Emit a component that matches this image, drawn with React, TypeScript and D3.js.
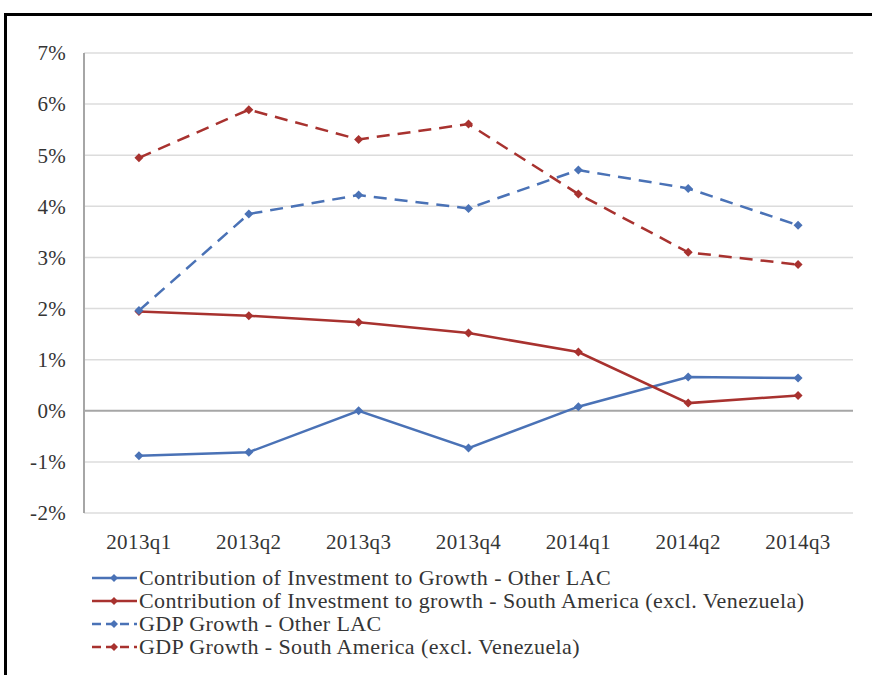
import React from "react";
import * as d3 from "d3";

const categories = ["2013q1", "2013q2", "2013q3", "2013q4", "2014q1", "2014q2", "2014q3"];
const invOtherLAC = [-0.88, -0.81, 0.0, -0.73, 0.08, 0.66, 0.64];
const invSouthAm = [1.94, 1.86, 1.73, 1.52, 1.15, 0.15, 0.3];
const gdpOtherLAC = [1.96, 3.85, 4.22, 3.96, 4.71, 4.35, 3.63];
const gdpSouthAm = [4.95, 5.89, 5.31, 5.61, 4.24, 3.1, 2.86];
const yTicks = [-2, -1, 0, 1, 2, 3, 4, 5, 6, 7];

const seriesNames = [
  "Contribution of Investment to Growth - Other LAC",
  "Contribution of Investment to growth - South America (excl. Venezuela)",
  "GDP Growth - Other LAC",
  "GDP Growth - South America (excl. Venezuela)",
];

const BLUE = "#4a72b6";
const RED = "#a8322f";

export default function App() {
  const W = 872, H = 675;
  const left = 84, right = 853, top = 53, bottom = 513;
  const x = d3.scaleBand().domain(categories).range([left, right]);
  const y = d3.scaleLinear().domain([-2, 7]).range([bottom, top]);
  const cx = (c: string) => (x(c) as number) + x.bandwidth() / 2;

  const series = [
    { name: seriesNames[0], values: invOtherLAC, color: BLUE, dash: null as string | null },
    { name: seriesNames[1], values: invSouthAm, color: RED, dash: null },
    { name: seriesNames[2], values: gdpOtherLAC, color: BLUE, dash: "13,8" },
    { name: seriesNames[3], values: gdpSouthAm, color: RED, dash: "13,8" },
  ];

  const line = d3
    .line<number>()
    .x((_, i) => cx(categories[i]))
    .y((d) => y(d));

  const diamond = (px: number, py: number, r = 4.5) =>
    `M${px},${py - r}L${px + r},${py}L${px},${py + r}L${px - r},${py}Z`;

  const font = "'Liberation Serif', 'Times New Roman', serif";
  const textColor = "#353535";

  return (
    <svg
      width={W}
      height={H}
      style={{ position: "absolute", left: 0, top: 0, background: "#fff" }}
    >
      <rect x={5.5} y={14.5} width={900} height={700} fill="#fff" stroke="#000" strokeWidth={3} />
      {yTicks.map((t) => (
        <line
          key={"g" + t}
          x1={left}
          x2={right}
          y1={y(t)}
          y2={y(t)}
          stroke={t === 0 ? "#a6a6a6" : "#dcdcdc"}
          strokeWidth={t === 0 ? 2 : 1.5}
        />
      ))}
      <line x1={left} x2={left} y1={top} y2={bottom} stroke="#a6a6a6" strokeWidth={2} />
      {yTicks.map((t) => (
        <text
          key={"yt" + t}
          x={66}
          y={y(t)}
          dy="0.35em"
          textAnchor="end"
          fontFamily={font}
          fontSize={21}
          letterSpacing={0.3}
          fill={textColor}
        >
          {`${t}%`}
        </text>
      ))}
      {categories.map((c) => (
        <text
          key={"xt" + c}
          x={cx(c)}
          y={549}
          textAnchor="middle"
          fontFamily={font}
          fontSize={21}
          letterSpacing={0.4}
          fill={textColor}
        >
          {c}
        </text>
      ))}
      {series.map((s, si) => (
        <g key={"s" + si}>
          <path
            d={line(s.values) || ""}
            fill="none"
            stroke={s.color}
            strokeWidth={2.5}
            strokeDasharray={s.dash || undefined}
          />
          {s.values.map((v, i) => (
            <path key={i} d={diamond(cx(categories[i]), y(v))} fill={s.color} />
          ))}
        </g>
      ))}
      {series.map((s, si) => {
        const ly = 578 + si * 23;
        return (
          <g key={"l" + si}>
            <line
              x1={92}
              x2={137}
              y1={ly}
              y2={ly}
              stroke={s.color}
              strokeWidth={2.5}
              strokeDasharray={s.dash ? "9,5" : undefined}
            />
            <path d={diamond(114, ly, 4)} fill={s.color} />
            <text
              x={139}
              y={ly}
              dy="0.33em"
              fontFamily={font}
              fontSize={22}
              letterSpacing={0.4}
              fill={textColor}
            >
              {s.name}
            </text>
          </g>
        );
      })}
    </svg>
  );
}
